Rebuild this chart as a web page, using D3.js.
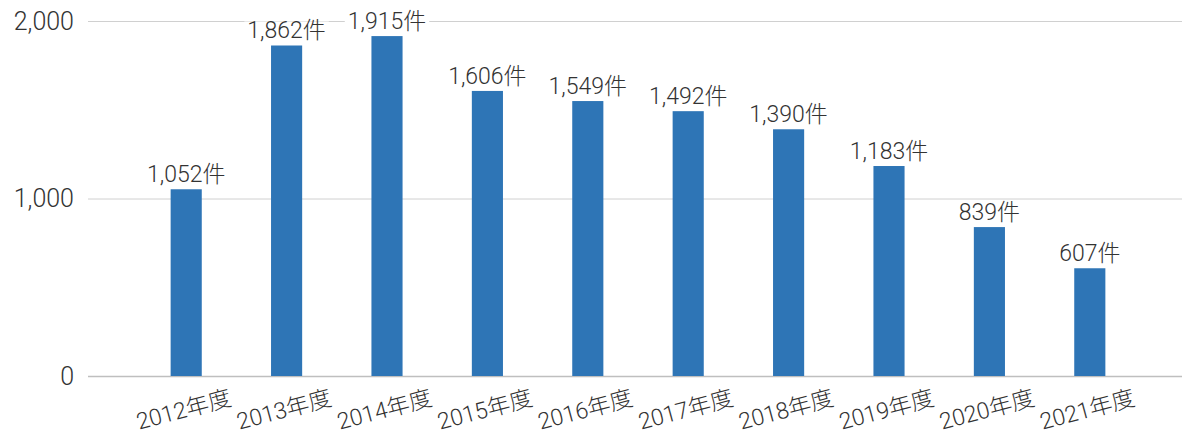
<!DOCTYPE html>
<html>
<head>
<meta charset="utf-8">
<script src="https://cdn.jsdelivr.net/npm/d3@7"></script>
<style>
  body { margin: 0; background: #fff; }
  text { font-family: Roboto, "Noto Sans CJK JP", sans-serif; font-weight: 300; fill: #333; }
</style>
</head>
<body>
<svg id="chart" width="1187" height="439"></svg>
<script>
const years = ['2012年度', '2013年度', '2014年度', '2015年度', '2016年度',
	'2017年度', '2018年度', '2019年度', '2020年度', '2021年度'];
const counts = [1052, 1862, 1915, 1606, 1549, 1492, 1390, 1183, 839, 607];
const yTicks = [0, 1000, 2000];

const svg = d3.select('#chart');
const gridX = [88, 1182]; // gridlines run wider than the bars

const x = d3.scaleBand()
	.domain(years)
	.range([136, 1140])
	.paddingInner(0.69)
	.paddingOuter(0.345);

const y = d3.scaleLinear()
	.domain([0, 2000])
	.range([376, 21]);

const fmt = d3.format(',');

// gridlines + y labels
const gY = svg.append('g').attr('class', 'g_y');
gY.selectAll('line')
	.data(yTicks).enter()
	.append('line')
	.attr('x1', gridX[0])
	.attr('x2', gridX[1])
	.attr('y1', d => y(d) + 0.5)
	.attr('y2', d => y(d) + 0.5)
	.attr('stroke', d => d === 0 ? '#bfbfbf' : '#d0d0d0')
	.attr('stroke-width', d => d === 0 ? 1.5 : 1);

gY.selectAll('text')
	.data(yTicks).enter()
	.append('text')
	.attr('x', 74)
	.attr('y', d => y(d) + 8.5)
	.attr('text-anchor', 'end')
	.style('font-size', '25px')
	.text(d => fmt(d));

// bars
svg.append('g').attr('class', 'g_bars')
	.selectAll('rect')
	.data(counts).enter()
	.append('rect')
	.attr('x', (d, i) => x(years[i]))
	.attr('y', d => y(d))
	.attr('width', x.bandwidth())
	.attr('height', d => y(0) - y(d))
	.attr('fill', '#2E75B6');

// value labels (white box behind, cuts the gridline like the original)
const gVals = svg.append('g').attr('class', 'g_vals')
	.selectAll('g')
	.data(counts).enter()
	.append('g');

gVals.append('rect').attr('fill', '#fff');
gVals.append('text')
	.attr('x', (d, i) => x(years[i]) + x.bandwidth() / 2)
	.attr('y', d => y(d) - 7)
	.attr('text-anchor', 'middle')
	.style('font-size', '23px')
	.text(d => fmt(d) + '件');

gVals.each(function() {
	const g = d3.select(this);
	const bb = g.select('text').node().getBBox();
	g.select('rect')
		.attr('x', bb.x - 3)
		.attr('y', bb.y + 4)
		.attr('width', bb.width + 6)
		.attr('height', bb.height - 6);
});

// x labels, tilted
svg.append('g').attr('class', 'g_x')
	.selectAll('text')
	.data(years).enter()
	.append('text')
	.attr('transform', d => 'translate(' + (x(d) + x.bandwidth() / 2 - 2.5) + ',409.5) rotate(-15)')
	.attr('text-anchor', 'middle')
	.attr('dy', '0.35em')
	.style('font-size', '23px')
	.text(d => d);
</script>
</body>
</html>
